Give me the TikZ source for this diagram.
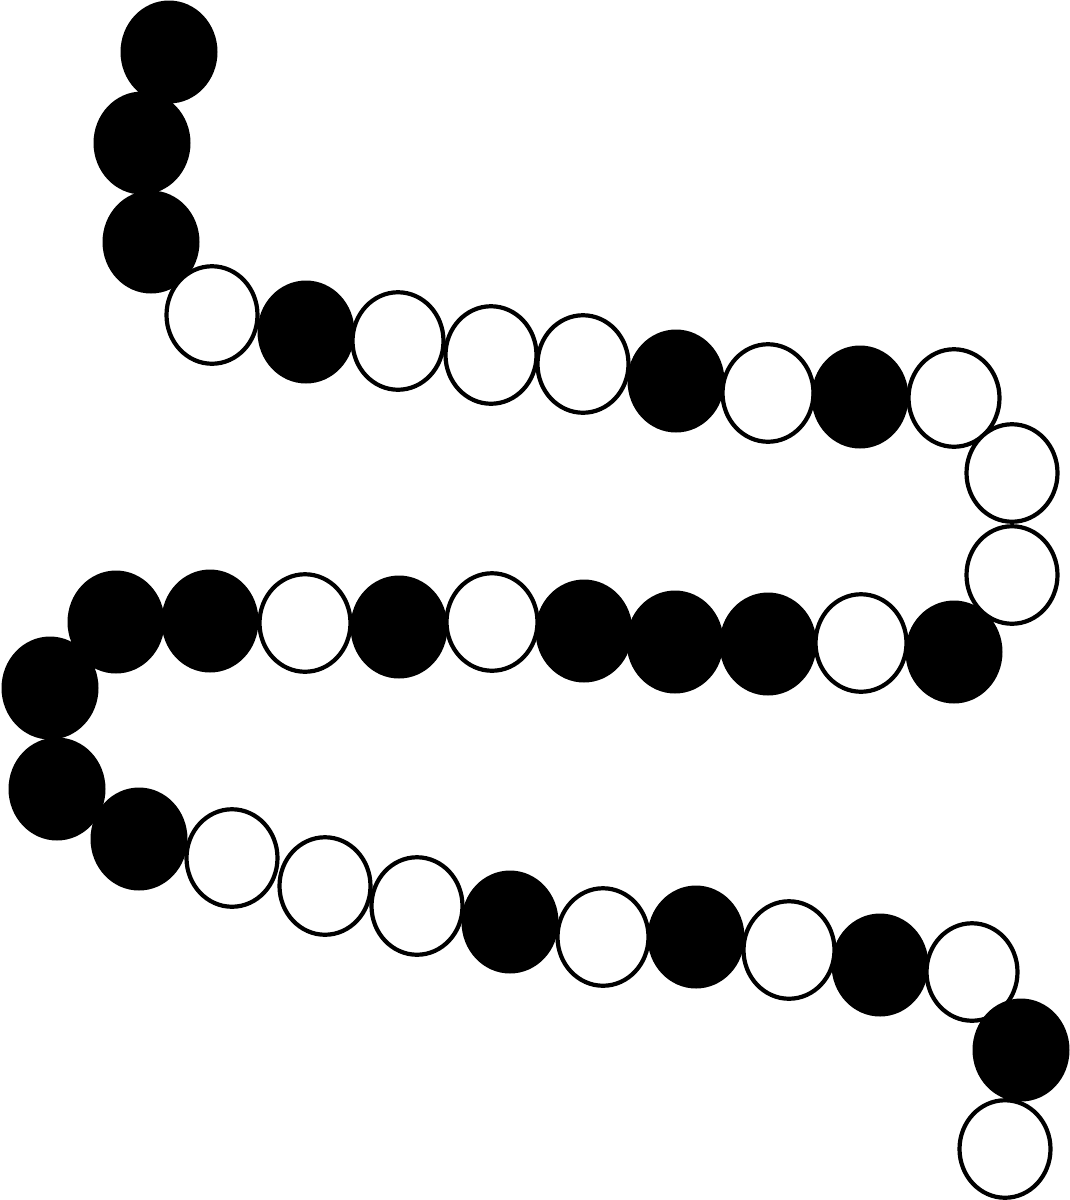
\documentclass[tikz,border=0pt]{standalone}
\usetikzlibrary{shapes.geometric}
\begin{document}
\begin{tikzpicture}[x=1pt,y=-1pt,
  bead/.style={ellipse,inner sep=0pt,outer sep=0pt},
  bk/.style={bead,fill=black,minimum width=97pt,minimum height=103pt},
  wh/.style={bead,draw=black,fill=white,line width=4.2pt,minimum width=91pt,minimum height=97.5pt}]
\useasboundingbox (0,0) rectangle (1070,1200);
\node[bk] (b1) at (169,52) {};
\node[bk] (b2) at (142,143) {};
\node[bk] (b3) at (151,242) {};
\node[wh] (b4) at (212,315) {};
\node[bk] (b5) at (306,332) {};
\node[wh] (b6) at (398,341) {};
\node[wh] (b7) at (491,355) {};
\node[wh] (b8) at (583,364) {};
\node[bk] (b9) at (676,381) {};
\node[wh] (b10) at (768,393) {};
\node[bk] (b11) at (860,397) {};
\node[wh] (b12) at (954,398) {};
\node[wh] (b13) at (1012,473) {};
\node[wh] (b14) at (1012,575) {};
\node[bk] (b15) at (954,652) {};
\node[wh] (b16) at (861,643) {};
\node[bk] (b17) at (768,644) {};
\node[bk] (b18) at (675,642) {};
\node[bk] (b19) at (584,631) {};
\node[wh] (b20) at (492,622) {};
\node[bk] (b21) at (399,627) {};
\node[wh] (b22) at (305,623) {};
\node[bk] (b23) at (210,621) {};
\node[bk] (b24) at (116,622) {};
\node[bk] (b25) at (50,688) {};
\node[bk] (b26) at (57,789) {};
\node[bk] (b27) at (139,839) {};
\node[wh] (b28) at (232,858) {};
\node[wh] (b29) at (325,886) {};
\node[wh] (b30) at (417,906) {};
\node[bk] (b31) at (510,922) {};
\node[wh] (b32) at (603,937) {};
\node[bk] (b33) at (696,937) {};
\node[wh] (b34) at (789,950) {};
\node[bk] (b35) at (880,965) {};
\node[wh] (b36) at (972,972) {};
\node[bk] (b37) at (1021,1050) {};
\node[wh] (b38) at (1005,1149) {};
\end{tikzpicture}
\end{document}
